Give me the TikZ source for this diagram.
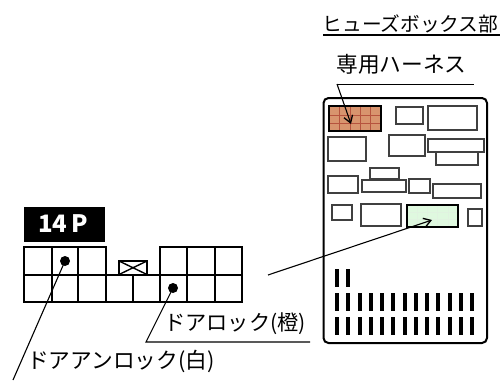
\documentclass[tikz,border=0pt]{standalone}
\usepackage{fontspec}
\newfontfamily\jp{Noto Sans CJK JP}
\usetikzlibrary{arrows.meta}
\definecolor{fuseor}{HTML}{D8946E}
\definecolor{fusegr}{HTML}{DFF9DF}
\tikzset{
  x=1pt,y=-1pt,
  cell/.style={draw=black,line width=1.4pt},
  fuse/.style={draw=black!75,line width=1.3pt,fill=white},
  leader/.style={draw=black,line width=1.1pt},
  tip/.style={-{Straight Barb[length=7pt,width=9pt,line width=1.3pt]}},
  lbl/.style={inner sep=0pt,anchor=center,font=\jp},
}
\begin{document}
\begin{tikzpicture}
\useasboundingbox (0,0) rectangle (501,381);
\fill[white] (0,0) rectangle (501,381);
% fuse box body
\draw[line width=2pt,rounded corners=5pt] (323.5,98) rectangle (487,343);
% title
\node[lbl,font=\jp\fontsize{19.7}{20}\selectfont] (title) at (410.5,23.5) {ヒューズボックス部};
\coordinate (ta) at (323,35); \coordinate (tb) at (500,35);
\draw[line width=1.5pt] (ta) -- (tb);
\node[lbl,font=\jp\fontsize{21.7}{22}\selectfont] (harness) at (401.5,64) {専用ハーネス};
\coordinate (ha) at (337,84); \coordinate (hb) at (474,84);
\draw[line width=1pt] (ha) -- (hb);
% fuses
\node[draw=black,line width=1.6pt,fill=fuseor,minimum width=52pt,minimum height=25pt,inner sep=0pt] (orange) at (355,118.5) {};
\foreach \x in {339.4,349.8,360.2,370.6} \draw[draw=fuseor!70!red!80!black,line width=0.5pt] (\x,107) -- (\x,130);
\foreach \y in {114.8,123.2} \draw[draw=fuseor!70!red!80!black,line width=0.5pt] (330,\y) -- (380,\y);
\path[fuse] (396,107) rectangle (423,124);
\path[fuse] (428,106) rectangle (477,130);
\path[fuse] (328,137) rectangle (366,161);
\path[fuse] (389,135) rectangle (425,156);
\path[fuse] (436,152) rectangle (478,165);
\path[fuse] (428,139) rectangle (484,152);
\path[fuse] (370,168) rectangle (399,179);
\path[fuse] (328,176) rectangle (358,193);
\path[fuse] (362,180) rectangle (406,192);
\path[fuse] (409,179) rectangle (430,193);
\path[fuse] (433,184) rectangle (481,198);
\path[fuse] (332,205) rectangle (352,220);
\path[fuse] (361,204) rectangle (401,226);
\node[draw=black,line width=1.4pt,fill=fusegr,minimum width=51pt,minimum height=22pt,inner sep=0pt] (green) at (432.5,216) {};
\foreach \x in {417.2,427.4,437.6,447.8} \draw[draw=green!60!black!12,line width=0.3pt] (\x,206) -- (\x,226);
\foreach \y in {212,219} \draw[draw=green!60!black!12,line width=0.3pt] (408,\y) -- (457,\y);
\path[fuse] (468,209) rectangle (482,226);
% bars
\foreach \i in {0,1} \fill (335+11.27*\i,269) rectangle ++(4,18);
\foreach \i in {0,...,12} {
  \fill (335+11.27*\i,293) rectangle ++(4,18);
  \fill (335+11.27*\i,317) rectangle ++(4,18);
}
% connector label
\node[fill=black,minimum width=81pt,minimum height=35pt,inner sep=0pt] (pin) at (64.5,224.5) {};
\node[lbl,text=white,font=\jp\bfseries\fontsize{24}{24}\selectfont] (pintext) at (63,223.5) {14\,P};
% connector grid
\draw[cell] (24,247) rectangle (106,275);
\draw[cell] (160,247) rectangle (242,275);
\draw[cell] (24,275) rectangle (242,302);
\foreach \x in {52,78} \draw[cell] (\x,247) -- (\x,302);
\foreach \x in {187,215} \draw[cell] (\x,247) -- (\x,302);
\foreach \x in {106,133,160} \draw[cell] (\x,275) -- (\x,302);
\draw[cell] (119,261) rectangle (147,274.5);
\draw[cell] (119,261) -- (147,274.5) (119,274.5) -- (147,261);
\node[circle,fill=black,minimum size=10pt,inner sep=0pt] (unlockpin) at (65,261) {};
\node[circle,fill=black,minimum size=10pt,inner sep=0pt] (lockpin) at (173,288) {};
% labels
\node[lbl,font=\jp\fontsize{21.2}{21}\selectfont] (lock) at (235,323.5) {ドアロック(橙)};
\node[lbl,font=\jp\fontsize{21.7}{22}\selectfont] (unlock) at (121,361.5) {ドアアンロック(白)};
% leaders
\coordinate (ul) at (13,380);
\draw[leader] (unlockpin.center) -- (ul);
\coordinate (lk) at (146,342); \coordinate (le) at (310,342);
\draw[leader] (lockpin.center) -- (lk) -- (le);
\draw[leader,tip] (ha) -- (351,124);
\coordinate (src) at (268,275);
\draw[leader,tip] (src) -- (432,220);
\end{tikzpicture}
\end{document}
